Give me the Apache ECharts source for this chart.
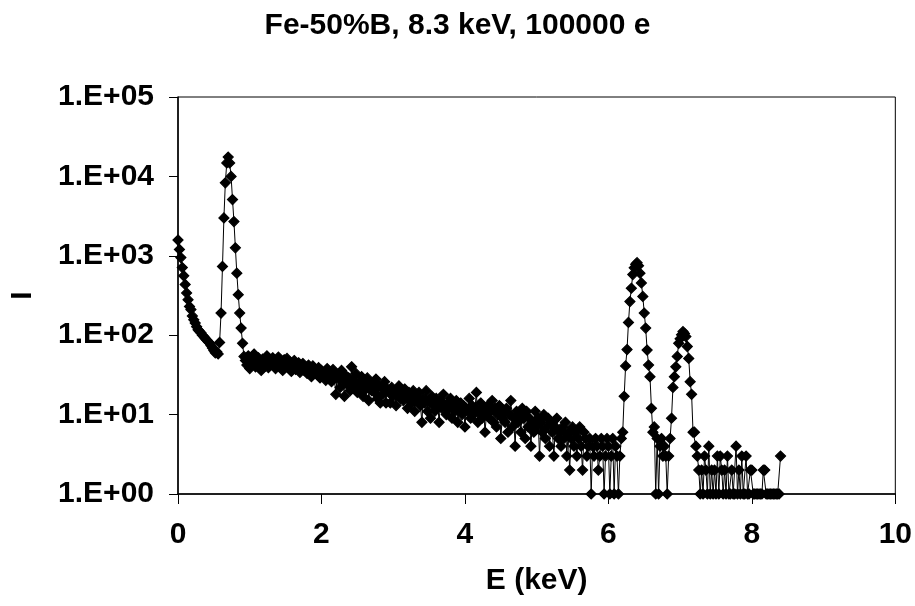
<!DOCTYPE html>
<html>
<head>
<meta charset="utf-8">
<script src="https://cdn.jsdelivr.net/npm/echarts@6/dist/echarts.min.js"></script>
<style>html,body{margin:0;padding:0;background:#fff}#c{width:915px;height:606px}</style>
</head>
<body>
<div id="c"></div>
<script>
// channel width (keV) and start energy
const E_START = 0;
const E_STEP = 0.02;
// counts per channel (0.00 .. 8.40 keV)
const countsLow = [1580,1200,950,710,560,435,340,280,230,210,175,156,142,128,117,112,107,100,96,91,87,83,80,74,69,64,60,62,58];
const countsFeL = [81,190,734,3000,8300,14800,17500,14800,10000,5100,2700,1260,605,323,190,123,79,54];
const countsCont = [
48,42,55,38,50,45,58,40,47,52,
44,36,50,46,41,55,39,48,43,52,
47,38,45,53,40,44,36,49,42,51,
39,46,35,43,48,37,41,45,34,40,
44,36,39,33,42,38,30,41,35,37,
32,39,29,36,31,34,27,38,30,33,
26,37,29,18,32,28,22,36,27,17,
31,24,29,20,40,27,22,33,19,26,
22,30,17,26,21,29,15,25,20,24,
19,28,16,23,14,22,18,26,14,21,
19,14,22,17,20,13,18,23,16,19,
15,21,17,12,19,16,14,20,11,17,
15,19,13,8,16,14,20,11,15,9,
17,13,11,16,14,8,15,12,18,13,
10,14,12,16,9,13,11,15,8,12,
14,10,13,7,12,11,16,9,13,10,
12,19,8,11,14,9,12,6,10,13,
9,11,15,8,12,7,10,13,5,9,
11,8,12,6,10,15,7,9,4,11,
8,10,6,12,9,5,11,7,9,4,
8,6,11,7,9,3,8,6,10,5,
7,9,4,8,6,3,7,9,5,6,
4,7,5,8,3,6,2,5,7,4,
6,3,5,7,4,2,6,5,3,4,
5,1,4,3,5,4,2,3,5,4,
1,3,5,4,1,3,5,1,4,3,
1,3,5];
const countsFeKa = [6,17,41,66,145,265,390,580,705,780,820,750,605,455,308,190,123,65,42,30,12,6];
const countsMid = [7,1,5,1,4,5,3,4,3,1,3,5];
const countsFeKb = [9,22,30,40,54,79,90,101,111,105,96,72,51,26,18,6,6];
const countsHigh = [
4,3,2,1,2,1,3,2,1,4,
1,2,1,2,1,3,1,3,2,1,
2,1,3,1,1,2,1,1,4,1,
2,1,3,1,1,3,1,1,2,2,
1,1,1,1,1,1,1,2,2,1,
1,1,1,1,1,1,1,1,1,3];
const counts = [].concat(countsLow, countsFeL, countsCont, countsFeKa, countsMid, countsFeKb, countsHigh);

const titleText = 'Fe-50%B, 8.3 keV, 100000 e';
const xName = 'E (keV)';
const yName = 'I';
const xTicks = [0, 2, 4, 6, 8, 10];
const yTickLabels = ['1.E+00','1.E+01','1.E+02','1.E+03','1.E+04','1.E+05'];

const data = counts.map((v, i) => [+(E_START + i * E_STEP).toFixed(2), v]);

const FONT = '"Liberation Sans", Arial, Helvetica, sans-serif';
const chart = echarts.init(document.getElementById('c'), null, {renderer: 'canvas'});
chart.setOption({
  animation: false,
  backgroundColor: '#ffffff',
  title: {
    text: titleText, left: 'center', top: 6,
    textStyle: {fontFamily: FONT, fontWeight: 'bold', fontSize: 30, color: '#000'}
  },
  grid: {left: 176, right: 19, top: 97, bottom: 112, show: true, borderColor: '#000', borderWidth: 1, backgroundColor: 'transparent'},
  xAxis: {
    type: 'value', min: xTicks[0], max: xTicks[xTicks.length - 1], interval: 2,
    name: xName, nameLocation: 'middle', nameGap: 72,
    nameTextStyle: {fontFamily: FONT, fontWeight: 'bold', fontSize: 30, color: '#000'},
    axisLine: {show: true, onZero: false, lineStyle: {color: '#000', width: 1.5}},
    axisTick: {show: true, inside: false, length: 10, lineStyle: {color: '#000', width: 1}},
    axisLabel: {margin: 26, fontFamily: FONT, fontWeight: 'bold', fontSize: 30, color: '#000'},
    splitLine: {show: false}
  },
  yAxis: {
    type: 'log', logBase: 10, min: 1, max: 100000, splitNumber: 5,
    name: yName, nameLocation: 'middle', nameGap: 140, nameRotate: 90,
    nameTextStyle: {fontFamily: FONT, fontWeight: 'bold', fontSize: 30, color: '#000'},
    axisLine: {show: true, lineStyle: {color: '#000', width: 1.5}},
    axisTick: {show: true, inside: false, length: 9, lineStyle: {color: '#000', width: 1}},
    axisLabel: {
      margin: 24, fontFamily: FONT, fontWeight: 'bold', fontSize: 30, color: '#000',
      formatter: v => yTickLabels[Math.round(Math.log10(v))] || ''
    },
    splitLine: {show: false}
  },
  series: [{
    type: 'line', data: data, clip: false,
    symbol: 'diamond', symbolSize: 10, showSymbol: true,
    lineStyle: {color: '#000', width: 1},
    itemStyle: {color: '#000', borderColor: '#000', borderWidth: 1.2}
  }]
});
</script>
</body>
</html>
